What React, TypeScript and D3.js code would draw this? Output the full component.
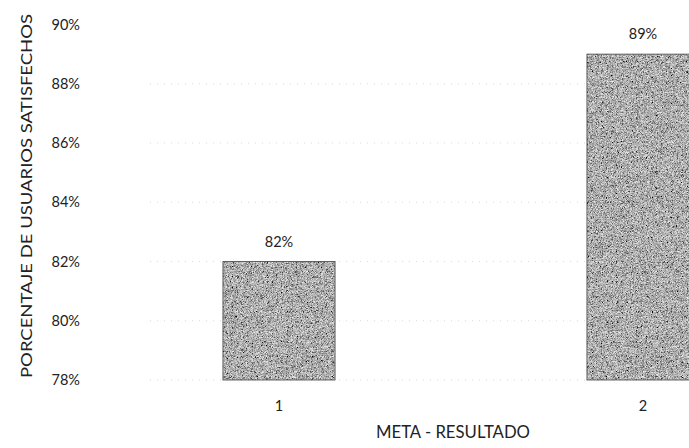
import React, { useRef, useEffect } from "react";
import * as d3 from "d3";

const categories = ["1", "2"];
const values = [82, 89];
const yTicks = [78, 80, 82, 84, 86, 88, 90];
const yTitle = "PORCENTAJE DE USUARIOS SATISFECHOS";
const xTitle = "META - RESULTADO";

const width = 689;
const height = 448;
const font = "Lato, 'Open Sans', sans-serif";

const App = () => {
  const svgRef = useRef<SVGSVGElement>(null);

  useEffect(() => {
    const svg = d3.select(svgRef.current);
    svg.selectAll("*").remove();

    // scanned-looking grain for bars
    const defs = svg.append("defs");
    const filter = defs
      .append("filter")
      .attr("id", "grain")
      .attr("x", 0)
      .attr("y", 0)
      .attr("width", "100%")
      .attr("height", "100%");
    filter
      .append("feTurbulence")
      .attr("type", "fractalNoise")
      .attr("baseFrequency", 2.2)
      .attr("numOctaves", 1)
      .attr("seed", 3)
      .attr("result", "noise");
    filter
      .append("feColorMatrix")
      .attr("in", "noise")
      .attr("type", "matrix")
      .attr(
        "values",
        "1.6 0 0 0 -0.38  1.6 0 0 0 -0.38  1.6 0 0 0 -0.38  0 0 0 0 1"
      )
      .attr("result", "gray");
    filter
      .append("feComposite")
      .attr("in", "gray")
      .attr("in2", "SourceGraphic")
      .attr("operator", "in");

    const y = d3.scaleLinear().domain([78, 90]).range([380, 24.5]);
    const x = d3
      .scaleBand()
      .domain(categories)
      .range([97, 825])
      .paddingInner(0.692)
      .paddingOuter(0.346);

    // faint dotted gridlines
    svg
      .append("g")
      .selectAll("line")
      .data(yTicks.slice(0, -1))
      .enter()
      .append("line")
      .attr("x1", 150)
      .attr("x2", width)
      .attr("y1", (d) => y(d))
      .attr("y2", (d) => y(d))
      .attr("stroke", "#dadada")
      .attr("stroke-width", 1)
      .attr("stroke-dasharray", "1,6");

    // y tick labels
    svg
      .append("g")
      .selectAll("text")
      .data(yTicks)
      .enter()
      .append("text")
      .attr("x", 80)
      .attr("y", (d) => y(d) + 5)
      .attr("text-anchor", "end")
      .attr("font-family", font)
      .attr("font-size", 14.5)
      .attr("fill", "#222")
      .text((d) => d + "%");

    // bars
    svg
      .append("g")
      .selectAll("rect")
      .data(values)
      .enter()
      .append("rect")
      .attr("x", (d, i) => x(categories[i]))
      .attr("y", (d) => y(d))
      .attr("width", x.bandwidth())
      .attr("height", (d) => y(78) - y(d))
      .attr("fill", "#808080")
      .attr("filter", "url(#grain)");

    svg
      .append("g")
      .selectAll("rect")
      .data(values)
      .enter()
      .append("rect")
      .attr("x", (d, i) => x(categories[i]))
      .attr("y", (d) => y(d))
      .attr("width", x.bandwidth())
      .attr("height", (d) => y(78) - y(d))
      .attr("fill", "none")
      .attr("stroke", "#444")
      .attr("stroke-width", 0.8);

    // value labels
    svg
      .append("g")
      .selectAll("text")
      .data(values)
      .enter()
      .append("text")
      .attr("x", (d, i) => x(categories[i]) + x.bandwidth() / 2)
      .attr("y", (d) => y(d) - 15)
      .attr("text-anchor", "middle")
      .attr("font-family", font)
      .attr("font-size", 14.5)
      .attr("fill", "#222")
      .text((d) => d + "%");

    // category labels
    svg
      .append("g")
      .selectAll("text")
      .data(categories)
      .enter()
      .append("text")
      .attr("x", (d) => x(d) + x.bandwidth() / 2)
      .attr("y", 411)
      .attr("text-anchor", "middle")
      .attr("font-family", font)
      .attr("font-size", 14.5)
      .attr("fill", "#222")
      .text((d) => d);

    // axis titles
    svg
      .append("text")
      .attr("transform", "translate(32,196) rotate(-90)")
      .attr("text-anchor", "middle")
      .attr("font-family", font)
      .attr("font-size", 16)
      .attr("fill", "#222")
      .attr("textLength", 364)
      .attr("lengthAdjust", "spacingAndGlyphs")
      .text(yTitle);

    svg
      .append("text")
      .attr("x", 453)
      .attr("y", 438)
      .attr("text-anchor", "middle")
      .attr("font-family", font)
      .attr("font-size", 17)
      .attr("fill", "#222")
      .attr("textLength", 154)
      .attr("lengthAdjust", "spacingAndGlyphs")
      .text(xTitle);
  }, []);

  return (
    <svg
      ref={svgRef}
      width={width}
      height={height}
      style={{ position: "absolute", left: 0, top: 0, background: "#fff" }}
    />
  );
};

export default App;
